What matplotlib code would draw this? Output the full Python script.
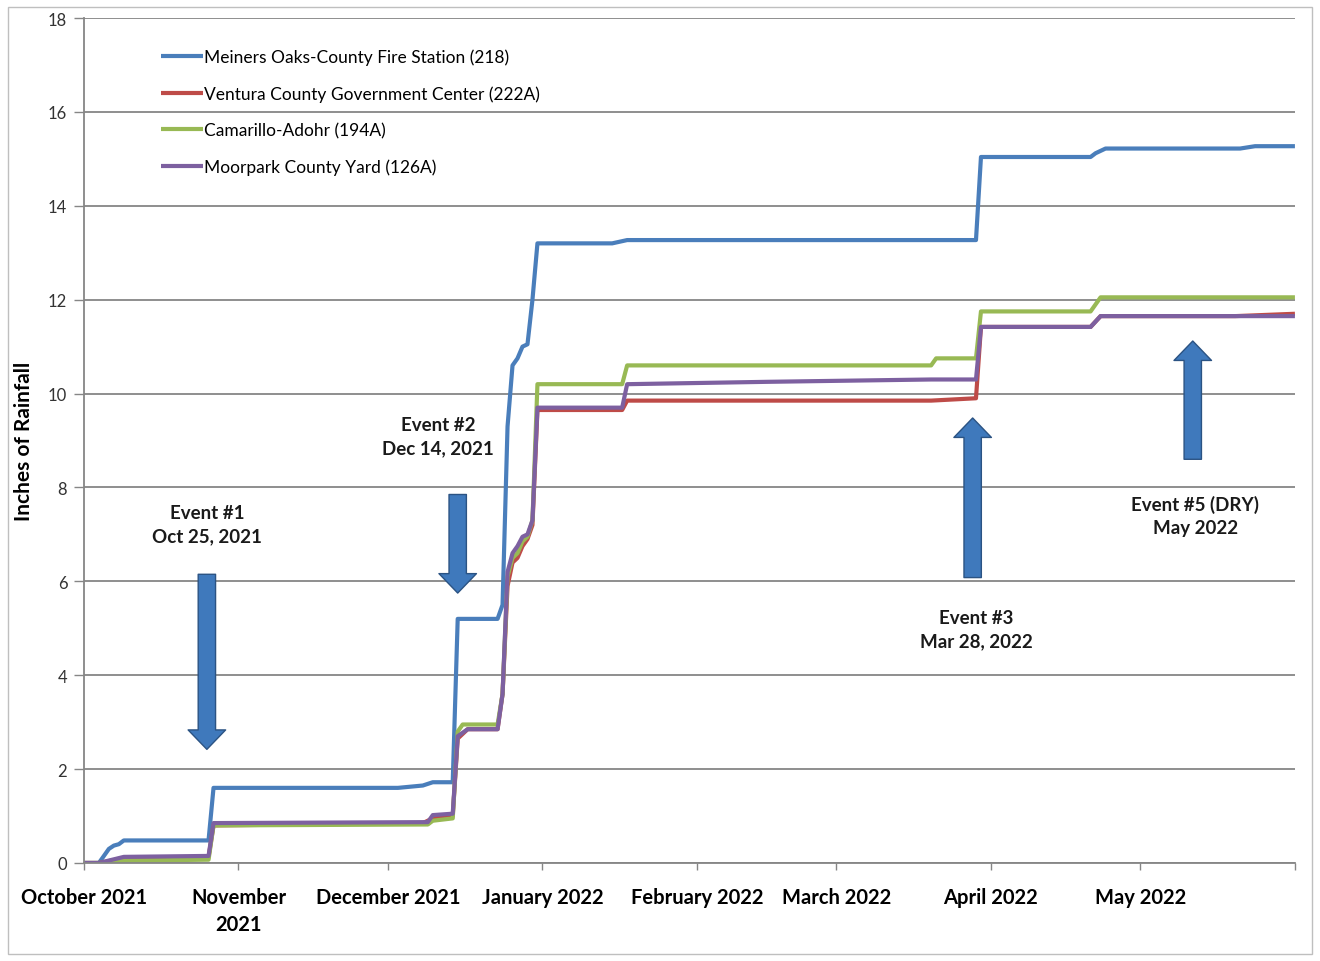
import numpy as np
import pandas as pd
import matplotlib
matplotlib.use("Agg")
import matplotlib.pyplot as plt
import matplotlib.dates as mdates
from matplotlib.patches import FancyArrowPatch, Rectangle

plt.rcParams['font.family'] = ['Lato', 'DejaVu Sans']

# cumulative rainfall (inches)
blue_dates = ["2021-10-01", "2021-10-04", "2021-10-05", "2021-10-06", "2021-10-07", "2021-10-08",
              "2021-10-09", "2021-10-26", "2021-10-27", "2021-12-03", "2021-12-08", "2021-12-10",
              "2021-12-14", "2021-12-15", "2021-12-23", "2021-12-24", "2021-12-25", "2021-12-26",
              "2021-12-27", "2021-12-28", "2021-12-29", "2021-12-30", "2021-12-31", "2022-01-15",
              "2022-01-18", "2022-03-29", "2022-03-30", "2022-04-21", "2022-04-22", "2022-04-24",
              "2022-05-21", "2022-05-24", "2022-06-01"]
blue_vals = [0, 0, 0.15, 0.3, 0.37, 0.4, 0.48, 0.48, 1.6, 1.6, 1.65, 1.72, 1.72, 5.2, 5.2, 5.5,
             9.3, 10.6, 10.75, 11.0, 11.05, 12.0, 13.2, 13.2, 13.27, 13.27, 15.04, 15.04, 15.12,
             15.22, 15.22, 15.27, 15.27]

red_dates = ["2021-10-01", "2021-10-04", "2021-10-09", "2021-10-26", "2021-10-27", "2021-12-08",
             "2021-12-10", "2021-12-14", "2021-12-15", "2021-12-17", "2021-12-23", "2021-12-24",
             "2021-12-25", "2021-12-26", "2021-12-27", "2021-12-28", "2021-12-29", "2021-12-30",
             "2021-12-31", "2022-01-17", "2022-01-18", "2022-03-20", "2022-03-29", "2022-03-30",
             "2022-04-21", "2022-04-23", "2022-05-20", "2022-06-01"]
red_vals = [0, 0, 0.1, 0.12, 0.8, 0.85, 0.95, 1.0, 2.65, 2.85, 2.85, 3.6, 5.9, 6.4, 6.5, 6.75,
            6.9, 7.2, 9.65, 9.65, 9.85, 9.85, 9.9, 11.42, 11.42, 11.65, 11.65, 11.7]

green_dates = ["2021-10-01", "2021-10-05", "2021-10-09", "2021-10-26", "2021-10-27", "2021-12-09",
               "2021-12-10", "2021-12-14", "2021-12-15", "2021-12-16", "2021-12-23", "2021-12-24",
               "2021-12-25", "2021-12-26", "2021-12-27", "2021-12-28", "2021-12-29", "2021-12-30",
               "2021-12-31", "2022-01-17", "2022-01-18", "2022-03-20", "2022-03-21", "2022-03-29",
               "2022-03-30", "2022-04-21", "2022-04-23", "2022-06-01"]
green_vals = [0, 0, 0.05, 0.07, 0.8, 0.82, 0.9, 0.95, 2.8, 2.95, 2.95, 3.6, 6.1, 6.5, 6.6, 6.85,
              6.95, 7.3, 10.2, 10.2, 10.6, 10.6, 10.75, 10.75, 11.75, 11.75, 12.05, 12.05]

purple_dates = ["2021-10-01", "2021-10-04", "2021-10-09", "2021-10-26", "2021-10-27", "2021-12-09",
                "2021-12-10", "2021-12-14", "2021-12-15", "2021-12-17", "2021-12-23", "2021-12-24",
                "2021-12-25", "2021-12-26", "2021-12-27", "2021-12-28", "2021-12-29", "2021-12-30",
                "2021-12-31", "2022-01-17", "2022-01-18", "2022-02-15", "2022-03-20", "2022-03-29",
                "2022-03-30", "2022-04-21", "2022-04-23", "2022-06-01"]
purple_vals = [0, 0, 0.13, 0.15, 0.85, 0.87, 1.02, 1.05, 2.7, 2.85, 2.85, 3.6, 6.2, 6.6, 6.75, 6.95,
               7.0, 7.3, 9.7, 9.7, 10.2, 10.25, 10.3, 10.3, 11.42, 11.42, 11.65, 11.65]

station_names = ["Meiners Oaks-County Fire Station (218)",
                 "Ventura County Government Center (222A)",
                 "Camarillo-Adohr (194A)",
                 "Moorpark County Yard (126A)"]

month_ticks = ["2021-10-01", "2021-11-01", "2021-12-01", "2022-01-01", "2022-02-01",
               "2022-03-01", "2022-04-01", "2022-05-01", "2022-06-01"]
month_labels = ["October 2021", "November\n2021", "December 2021", "January 2022",
                "February 2022", "March 2022", "April 2022", "May 2022", ""]

# event annotations: label, text anchor, arrow tail, arrow head
events = [
    ("Event #1\nOct 25, 2021", ("2021-10-25 16:00", 7.22), ("2021-10-25 16:00", 6.15), ("2021-10-25 16:00", 2.42)),
    ("Event #2\nDec 14, 2021", ("2021-12-11 00:00", 9.1), ("2021-12-15 00:00", 7.85), ("2021-12-15 00:00", 5.75)),
    ("Event #3\nMar 28, 2022", ("2022-03-29 00:00", 4.98), ("2022-03-28 08:00", 6.08), ("2022-03-28 08:00", 9.48)),
    ("Event #5 (DRY)\nMay 2022", ("2022-05-12 00:00", 7.41), ("2022-05-11 12:00", 8.6), ("2022-05-11 12:00", 11.12)),
]

colors = ["#4A7EBB", "#BE4B48", "#98B954", "#7D60A0"]

fig = plt.figure(figsize=(13.2, 9.62), dpi=100)
ax = fig.add_axes([0.0636, 0.1019, 0.9174, 0.8783])

series = [(blue_dates, blue_vals), (red_dates, red_vals),
          (green_dates, green_vals), (purple_dates, purple_vals)]
for (d, v), c, name in zip(series, colors, station_names):
    ax.plot(pd.to_datetime(d), v, color=c, lw=3.0, label=name,
            solid_joinstyle='round', solid_capstyle='butt')

ax.set_ylim(0, 18)
ax.set_xlim(pd.Timestamp("2021-10-01"), pd.Timestamp("2022-06-01"))
ax.set_yticks(np.arange(0, 19, 2))
ax.yaxis.grid(True, color="#868686", lw=1.3)
ax.set_axisbelow(True)
ax.set_xticks(pd.to_datetime(month_ticks))
ax.set_xticklabels(month_labels, fontsize=14.5, fontweight='bold', linespacing=1.45)
ax.tick_params(axis='x', length=5, width=1, color="#868686", pad=12)
ax.tick_params(axis='y', length=7, width=1, color="#868686", labelsize=12, pad=5,
               labelcolor="#333333")
for s in ['top', 'right']:
    ax.spines[s].set_visible(False)
for s in ['left', 'bottom']:
    ax.spines[s].set_color("#868686")
    ax.spines[s].set_linewidth(1.3)

ax.set_ylabel("Inches of Rainfall", fontsize=15, fontweight='bold', labelpad=10)

leg = ax.legend(loc='upper left', bbox_to_anchor=(0.058, 0.972), frameon=False,
                fontsize=12.5, handlelength=2.4, handletextpad=0.05, labelspacing=1.17,
                borderaxespad=0)

for label, txt, tail, head in events:
    ax.text(pd.Timestamp(txt[0]), txt[1], label, ha='center', va='center',
            fontsize=13.5, fontweight='bold', linespacing=1.45, color="#1a1a1a")
    arr = FancyArrowPatch((mdates.date2num(pd.Timestamp(tail[0])), tail[1]),
                          (mdates.date2num(pd.Timestamp(head[0])), head[1]),
                          arrowstyle="simple,head_length=14,head_width=27,tail_width=12.5",
                          mutation_scale=1, facecolor="#3F79BC", edgecolor="#2B5383",
                          lw=1.0, shrinkA=0, shrinkB=0, zorder=5)
    ax.add_patch(arr)

fig.patches.append(Rectangle((0.006, 0.007), 0.988, 0.985, transform=fig.transFigure,
                             fill=False, edgecolor="#BFBFBF", lw=1.0))

fig.savefig("out.png", dpi=100)
